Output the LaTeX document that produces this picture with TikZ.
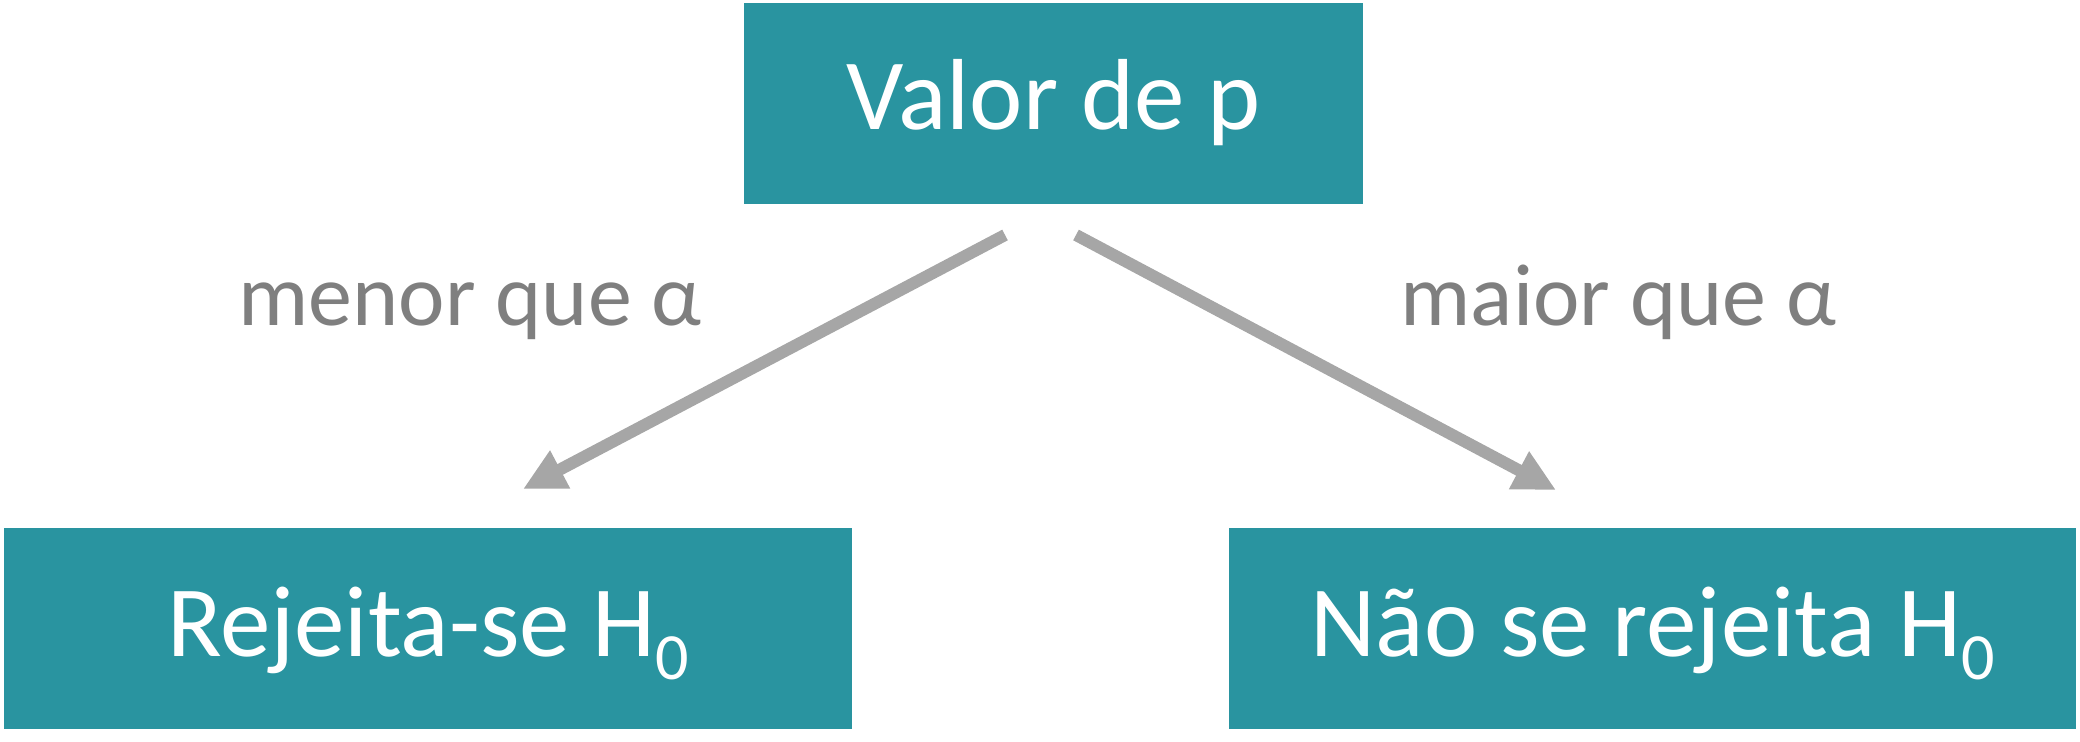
\documentclass[tikz,border=0pt]{standalone}
\usepackage{fontspec}
\setmainfont{Carlito}
\usetikzlibrary{arrows.meta}
\definecolor{tealbox}{HTML}{2994A0}
\definecolor{arrowgray}{HTML}{A6A6A6}
\definecolor{labelgray}{HTML}{7F7F7F}
\tikzset{
  box/.style={fill=tealbox, text=white, inner sep=0pt, minimum height=100.5pt,
    font=\fontsize{50.5}{60}\selectfont, text height=40pt},
  conn/.style={draw=arrowgray, line width=6pt, -{Triangle[length=21pt,width=20pt]}},
  lbl/.style={text=labelgray, font=\fontsize{44}{52}\selectfont, inner sep=0pt, anchor=base},
}
\newcommand{\subzero}{\raisebox{-11.5pt}{\fontsize{33}{40}\selectfont 0}}
\begin{document}
\begin{tikzpicture}[x=0.5pt,y=-0.5pt]
\useasboundingbox (0,0) rectangle (2080,742);
\node[box, minimum width=309.5pt, text depth=13.5pt] (top) at (1053.5,103.5) {Valor de p};
\node[box, minimum width=424pt, text depth=12.5pt] (rej) at (428,628.5) {Rejeita-se H\subzero};
\node[box, minimum width=423.5pt, text depth=12.5pt] (nrej) at (1652.5,628.5) {Não se rejeita H\subzero};
\coordinate (s1) at (1005,235);
\coordinate (t1) at (523,489);
\coordinate (s2) at (1076,235);
\coordinate (t2) at (1556,490);
\draw[conn] (s1) -- (t1);
\draw[conn] (s2) -- (t2);
\node[lbl] (lmenor) at (470,326) {menor que α};
\node[lbl] (lmaior) at (1618.5,326) {maior que α};
\end{tikzpicture}
\end{document}
